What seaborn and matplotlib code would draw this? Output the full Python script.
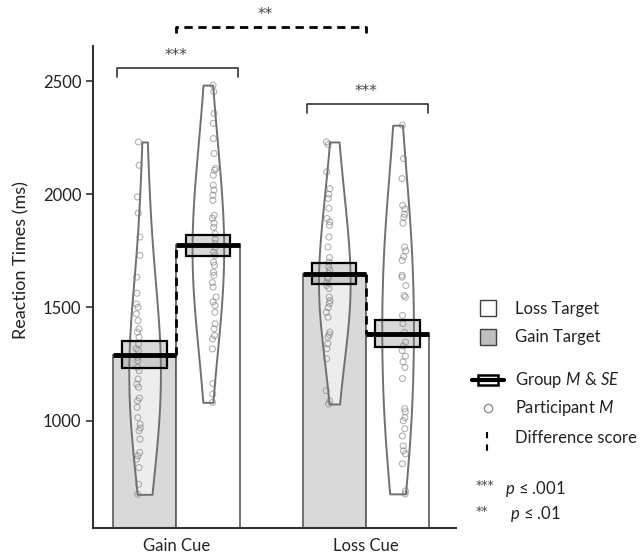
import numpy as np
import pandas as pd
import matplotlib
matplotlib.use("Agg")
import matplotlib.pyplot as plt
import seaborn as sns
from matplotlib.patches import Rectangle
from matplotlib.lines import Line2D

cues = ["Gain Cue", "Loss Cue"]
targets = ["Gain Target", "Loss Target"]

# participant means (ms)
gain_cue_gain_target = [2231, 2128, 1988, 1917, 1811, 1730, 1634, 1563, 1516, 1501,
                        1472, 1442, 1406, 1391, 1369, 1339, 1317, 1310, 1280, 1265,
                        1236, 1221, 1184, 1162, 1148, 1100, 1088, 1059, 1014, 985,
                        968, 956, 919, 860, 845, 830, 793, 719, 675]
gain_cue_loss_target = [2482, 2453, 2357, 2313, 2246, 2180, 2114, 2106, 2084, 2040,
                        2018, 1996, 1973, 1907, 1894, 1872, 1854, 1826, 1800, 1783,
                        1765, 1745, 1730, 1700, 1686, 1656, 1642, 1610, 1590, 1546,
                        1525, 1509, 1479, 1428, 1406, 1376, 1361, 1317, 1164, 1118, 1081]
loss_cue_gain_target = [2231, 2220, 2099, 2025, 2000, 1982, 1938, 1893, 1878, 1863,
                        1811, 1767, 1720, 1700, 1680, 1665, 1650, 1633, 1628, 1610,
                        1597, 1584, 1546, 1530, 1517, 1500, 1479, 1457, 1391, 1380,
                        1369, 1340, 1318, 1274, 1133, 1088, 1074]
loss_cue_loss_target = [2305, 2158, 2069, 1951, 1935, 1912, 1898, 1872, 1767, 1750,
                        1725, 1708, 1642, 1634, 1597, 1553, 1546, 1465, 1429, 1390,
                        1347, 1330, 1310, 1285, 1260, 1235, 1186, 1053, 1040, 1014,
                        1000, 965, 933, 889, 867, 854, 810, 690, 677]

# group means and SE per cue
gain_target_mean = [1292, 1650]
loss_target_mean = [1774, 1385]
gain_target_se = [58, 45]
loss_target_se = [45, 60]

# significance labels
pair_sig = ["***", "***"]
diff_sig = "**"

rows = []
for cue, vals in zip(cues, [gain_cue_gain_target, loss_cue_gain_target]):
    rows += [(cue, "Gain Target", v) for v in vals]
for cue, vals in zip(cues, [gain_cue_loss_target, loss_cue_loss_target]):
    rows += [(cue, "Loss Target", v) for v in vals]
df = pd.DataFrame(rows, columns=["cue", "target", "rt"])

means = pd.DataFrame({
    "cue": cues * 2,
    "target": ["Gain Target"] * 2 + ["Loss Target"] * 2,
    "rt": gain_target_mean + loss_target_mean,
    "se": gain_target_se + loss_target_se,
})

sns.set_style("ticks")
plt.rcParams["font.family"] = ["Lato", "DejaVu Sans"]
plt.rcParams["mathtext.fontset"] = "custom"
plt.rcParams["mathtext.it"] = "Lato:italic"
plt.rcParams["mathtext.rm"] = "Lato"
txt = "#222222"
star_kw = dict(family="DejaVu Sans", color="#444444")

fig = plt.figure(figsize=(6.44, 5.54), dpi=100)
ax = fig.add_axes([0.1449, 0.0464, 0.5627, 0.8711])

# bars
sns.barplot(data=means, x="cue", y="rt", hue="target", order=cues, hue_order=targets,
            palette={"Gain Target": "#d9d9d9", "Loss Target": "white"},
            width=0.667, errorbar=None, edgecolor="#5a5a5a", linewidth=1.2,
            legend=False, ax=ax)
bars = sorted(ax.patches, key=lambda p: p.get_x())

# violins
n0 = len(ax.collections)
sns.violinplot(data=df, x="cue", y="rt", hue="target", order=cues, hue_order=targets,
               width=0.667, gap=0.5, cut=0, inner=None, density_norm="width",
               bw_adjust=1.6, linewidth=1.4, linecolor="#707070",
               palette={"Gain Target": "white", "Loss Target": "white"},
               legend=False, ax=ax)
for c in ax.collections[n0:]:
    c.set_facecolor((1, 1, 1, 0.55))
    c.set_edgecolor("#707070")

# participant points
np.random.seed(3)
n0 = len(ax.collections)
sns.stripplot(data=df, x="cue", y="rt", hue="target", order=cues, hue_order=targets,
              dodge=True, jitter=0.022, size=4.3, linewidth=0.8, legend=False, ax=ax)
for c in ax.collections[n0:]:
    c.set_facecolor("none")
    c.set_edgecolor((0.45, 0.45, 0.45, 0.55))

# group mean and SE boxes
bar_vals = [(gain_target_mean[0], gain_target_se[0]), (loss_target_mean[0], loss_target_se[0]),
            (gain_target_mean[1], gain_target_se[1]), (loss_target_mean[1], loss_target_se[1])]
for p, (m, se) in zip(bars, bar_vals):
    xc = p.get_x() + p.get_width() / 2
    bw = p.get_width() * 0.7
    ax.add_patch(Rectangle((xc - bw / 2, m - se), bw, 2 * se, facecolor=(0.5, 0.5, 0.5, 0.3),
                           edgecolor="black", linewidth=1.6, zorder=5))
    ax.plot([p.get_x(), p.get_x() + p.get_width()], [m, m], color="black", lw=3.5,
            solid_capstyle="butt", zorder=6)

# difference score dashed lines
for i in range(2):
    xb = bars[2 * i].get_x() + bars[2 * i].get_width()
    ax.plot([xb, xb], [gain_target_mean[i], loss_target_mean[i]], color="black", lw=2,
            ls=(0, (3, 2)), zorder=6)

# significance brackets
for i, lvl, s in zip(range(2), [2557, 2398], pair_sig):
    ax.plot([i - 0.312, i - 0.312, i + 0.326, i + 0.326], [lvl - 40, lvl, lvl, lvl - 40],
            color="#333333", lw=1.2, clip_on=False)
    ax.text(i, lvl + 22, s, ha="center", va="bottom", fontsize=11, **star_kw)
ax.plot([0, 0, 1, 1], [2712, 2739, 2739, 2712], color="black", lw=2, ls=(0, (3, 2)),
        clip_on=False)
ax.text(0.47, 2762, diff_sig, ha="center", va="bottom", fontsize=11, **star_kw)

ax.set_xlim(-0.437, 1.473)
ax.set_ylim(525, 2656)
ax.set_yticks([1000, 1500, 2000, 2500])
ax.tick_params(axis="y", labelsize=12, length=5, width=1.2, colors="#333333", labelcolor=txt)
ax.tick_params(axis="x", labelsize=12, length=0, pad=7, labelcolor=txt)
ax.set_xlabel("")
ax.set_ylabel("Reaction Times (ms)", fontsize=13, color=txt)
ax.yaxis.set_label_coords(-0.175, 0.556)
sns.despine(ax=ax)
for s in ["left", "bottom"]:
    ax.spines[s].set_linewidth(1.5)
    ax.spines[s].set_color("#333333")


# legend drawn in figure pixel coordinates
def fx(x):
    return x / 644


def fy(y):
    return 1 - y / 554


fig.add_artist(Rectangle((fx(480), fy(316)), 16 / 644, 16 / 554, transform=fig.transFigure,
                         facecolor="white", edgecolor="#404040", lw=1))
fig.add_artist(Rectangle((fx(480), fy(345)), 16 / 644, 16 / 554, transform=fig.transFigure,
                         facecolor="#bfbfbf", edgecolor="#404040", lw=1))
fig.add_artist(Rectangle((fx(478), fy(385)), 20 / 644, 10 / 554, transform=fig.transFigure,
                         facecolor="white", edgecolor="black", lw=1.8))
fig.add_artist(Line2D([fx(472), fx(504)], [fy(380), fy(380)], transform=fig.transFigure,
                      color="black", lw=3))
fig.add_artist(Line2D([fx(488)], [fy(408)], transform=fig.transFigure, marker="o",
                      ms=6, mfc="none", mec="#888888", mew=0.9, ls="none"))
fig.add_artist(Line2D([fx(487), fx(487)], [fy(432), fy(457)], transform=fig.transFigure,
                      color="black", lw=1.5, ls=(0, (3, 3))))

leg_items = [("Loss Target", 309), ("Gain Target", 337), ("Group $M$ & $SE$", 380),
             ("Participant $M$", 408), ("Difference score", 438)]
for label, y in leg_items:
    fig.text(fx(515), fy(y), label, fontsize=12, va="center", color=txt)
fig.text(fx(476), fy(486), "***", fontsize=9, va="center", **star_kw)
fig.text(fx(505), fy(489), "$p$ \u2264 .001", fontsize=12, va="center", color=txt)
fig.text(fx(476), fy(511), "**", fontsize=9, va="center", **star_kw)
fig.text(fx(510), fy(514), "$p$ \u2264 .01", fontsize=12, va="center", color=txt)

fig.savefig("out.png", dpi=100)
